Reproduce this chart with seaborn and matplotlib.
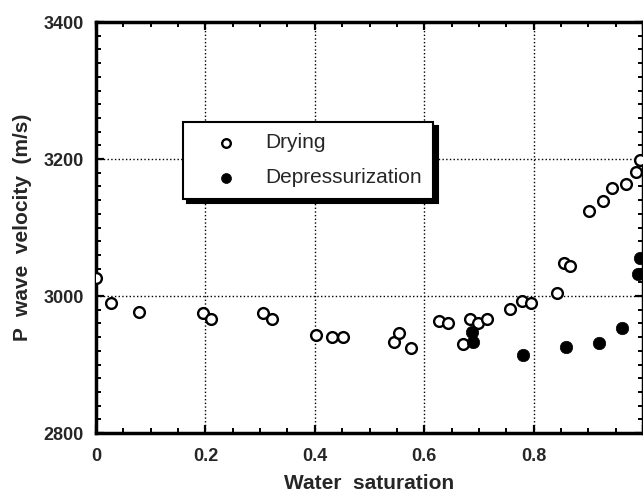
import numpy as np
import pandas as pd
import matplotlib
matplotlib.use('Agg')
import matplotlib.pyplot as plt
from matplotlib.ticker import MultipleLocator
import seaborn as sns

# water saturation / P wave velocity
drying_sw = [0.0, 0.027, 0.079, 0.196, 0.21, 0.305, 0.322, 0.402, 0.431, 0.452,
             0.545, 0.554, 0.576, 0.627, 0.644, 0.671, 0.684, 0.698, 0.715, 0.756,
             0.779, 0.795, 0.843, 0.856, 0.866, 0.901, 0.927, 0.943, 0.969, 0.987, 0.995]
drying_vp = [3026, 2990, 2977, 2975, 2966, 2975, 2966, 2943, 2940, 2940,
             2933, 2946, 2924, 2963, 2960, 2930, 2966, 2960, 2966, 2981,
             2993, 2990, 3004, 3048, 3044, 3124, 3139, 3158, 3164, 3181, 3199]

depress_sw = [0.687, 0.689, 0.780, 0.859, 0.920, 0.961, 0.991, 0.994]
depress_vp = [2947, 2933, 2914, 2926, 2931, 2953, 3032, 3055]

xtick_vals = [0, 0.2, 0.4, 0.6, 0.8, 1.0]
xtick_labels = ['0', '0.2', '0.4', '0.6', '0.8', '']
ytick_vals = [2800, 3000, 3200, 3400]

sns.set_style('ticks')
plt.rcParams['font.family'] = ['Liberation Sans', 'DejaVu Sans']

dry = pd.DataFrame({'sw': drying_sw, 'vp': drying_vp})
dep = pd.DataFrame({'sw': depress_sw, 'vp': depress_vp})

fig = plt.figure(figsize=(6.43, 4.94), dpi=100)
ax = fig.add_axes([96 / 643, 61 / 494, 547 / 643, 411 / 494])

sns.scatterplot(data=dry, x='sw', y='vp', ax=ax, marker='o', s=60,
                facecolor='white', edgecolor='black', linewidth=1.7,
                label='Drying', zorder=3)
sns.scatterplot(data=dep, x='sw', y='vp', ax=ax, marker='o', s=80,
                color='black', edgecolor='black', linewidth=0.5,
                label='Depressurization', zorder=4)

ax.set_xlim(0, 1.0)
ax.set_ylim(2800, 3400)
ax.set_xticks(xtick_vals)
ax.set_xticklabels(xtick_labels)
ax.set_yticks(ytick_vals)
ax.xaxis.set_minor_locator(MultipleLocator(0.05))
ax.yaxis.set_minor_locator(MultipleLocator(20))

ax.grid(True, which='major', linestyle=':', linewidth=1.0, color='black')
ax.set_axisbelow(True)

for sp in ax.spines.values():
    sp.set_visible(True)
    sp.set_linewidth(2.5)
    sp.set_color('black')

ax.tick_params(which='both', direction='in', top=True, right=True, color='black')
ax.tick_params(which='major', length=6, width=1.6, labelsize=13, pad=9)
ax.tick_params(which='minor', length=3.5, width=1.4)
ax.tick_params(axis='x', which='major', pad=11)
for lab in ax.get_xticklabels() + ax.get_yticklabels():
    lab.set_fontweight('bold')

ax.set_xlabel('Water  saturation', fontsize=15, fontweight='bold', labelpad=6)
ax.set_ylabel('P  wave  velocity  (m/s)', fontsize=15, fontweight='bold', labelpad=8)

leg = ax.legend(loc='upper left', bbox_to_anchor=(183 / 643, 1 - 122 / 494),
                bbox_transform=fig.transFigure, borderaxespad=0, fontsize=15,
                frameon=True, fancybox=False, edgecolor='black', framealpha=1,
                borderpad=0.55, handlelength=3.0, handletextpad=0.4,
                labelspacing=0.75, markerscale=0.8,
                shadow={'ox': 3, 'oy': -3, 'color': 'black', 'alpha': 1})
leg.get_frame().set_linewidth(1.5)

fig.savefig('out.png', dpi=100)
